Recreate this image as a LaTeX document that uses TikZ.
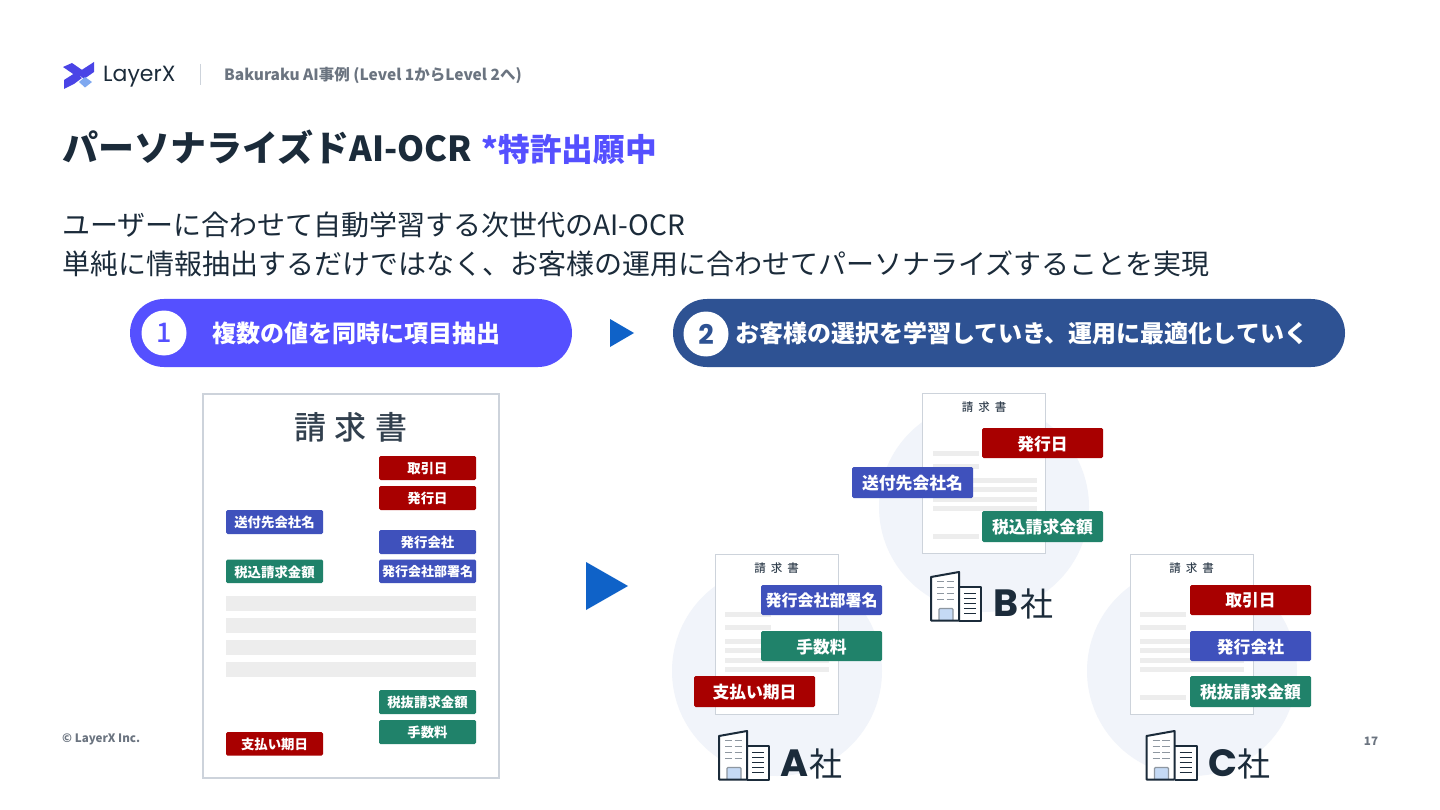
\documentclass[tikz,border=0pt]{standalone}
\usepackage{fontspec}
\setmainfont{Noto Sans CJK JP}
\setsansfont{Noto Sans CJK JP}
\newfontfamily\pop{Poppins}
\newfontfamily\med{Noto Sans CJK JP Medium}
\usetikzlibrary{calc}
\definecolor{ink}{HTML}{1B2B3A}
\definecolor{grayt}{HTML}{6B7480}
\definecolor{violet}{HTML}{5550FF}
\definecolor{logov}{HTML}{4A44E6}
\definecolor{logol}{HTML}{7FA8F0}
\definecolor{navy}{HTML}{2E5293}
\definecolor{arrowblue}{HTML}{0F62C8}
\definecolor{tagred}{HTML}{A80000}
\definecolor{tagblue}{HTML}{3F51BC}
\definecolor{taggreen}{HTML}{20826A}
\definecolor{docline}{HTML}{CDD3DB}
\definecolor{barg}{HTML}{EDEDED}
\definecolor{disc}{HTML}{F1F4FA}
\definecolor{doorc}{HTML}{C5DAF5}
\definecolor{wing}{HTML}{8E97A0}
\tikzset{
  x=1pt,y=-1pt,
  tag/.style={inner sep=0,text=white,font=\bfseries\fontsize{#1}{#1}\selectfont,align=center},
  corplabel/.style={anchor=west,inner sep=0,text=ink},
}
% filled tag: x0,y0,x1,y1,colour,style,text,name
\newcommand{\tagbox}[8]{\fill[#5,rounded corners=1.5pt] (#1,#2) rectangle (#3,#4);
  \node[#6] (#8) at ({(#1+#3)/2},{(#2+#4)/2+0.7}) {#7};}
% small document with origin at top-left; 123x160
\newcommand{\minidoc}[3]{\begin{scope}[shift={(#1,#2)}]
  \fill[white] (0,0) rectangle (123,160);
  \draw[docline,line width=0.7pt] (0,0) rectangle (123,160);
  \node[font=\med\fontsize{11.5}{11.5}\selectfont,text=ink!90] (#3) at (61.5,14) {請\hspace{5pt}求\hspace{5pt}書};
  \foreach \yy/\xa/\xb in {60/10/56,73/10/56,87/10/114,96/10/114,106/10/114,115/10/114,143/10/56}{
    \fill[barg] (\xa,\yy-2.5) rectangle (\xb,\yy+3);}
\end{scope}}
% building icon, origin top-left
\newcommand{\building}[2]{\begin{scope}[shift={(#1,#2)}]
  \fill[white] (0,5.5) -- (28,0.5) -- (28,49) -- (0,49) -- cycle;
  \fill[white] (28,15) rectangle (50,49);
  \foreach \yy in {10,16,22,28}{
    \draw[wing,line width=1.6pt] (6,\yy) -- (13,\yy) (15.5,\yy) -- (23,\yy);}
  \foreach \yy in {22,27,32,37,42}{
    \draw[ink,line width=1.7pt] (33,\yy) -- (45,\yy);}
  \fill[doorc,draw=wing,line width=1.2pt,rounded corners=1pt] (8,49) -- (8,37) -- (22,37) -- (22,49);
  \draw[ink,line width=2pt,line join=round] (28,49) -- (0,49) -- (0,5.5) -- (28,0.5) -- (28,49);
  \draw[ink,line width=2pt,line join=round] (28,15) -- (50,15) -- (50,49) -- (28,49);
\end{scope}}
\begin{document}
\begin{tikzpicture}
\useasboundingbox (0,0) rectangle (1440,810);
\fill[white] (0,0) rectangle (1440,810);
% logo
\fill[logov] (63,67) -- (72,63) -- (85,72) -- (79,78) -- cycle;
\fill[logov] (64,80) -- (75,73) -- (82,78) -- (74,84) -- (64,89) -- cycle;
\fill[logov] (94,62) -- (94,72) -- (84,79) -- (77,73) -- cycle;
\fill[logol] (79,82) -- (85,77) -- (92,82) -- (85,87.5) -- cycle;
\node[anchor=west,inner sep=0,font=\pop\fontsize{22}{22}\selectfont,text=ink] (logotext) at (103,76.5) {LayerX};
\draw[docline,line width=1.2pt] (200.5,64) -- (200.5,85);
\node[anchor=west,inner sep=0,font=\bfseries\fontsize{15.5}{15.5}\selectfont,text=grayt] (crumb) at (224,75.5) {Bakuraku AI事例 (Level 1からLevel 2へ)};
% title
\node[anchor=west,inner sep=0,font=\bfseries\fontsize{36}{36}\selectfont,text=ink] (title) at (62.5,147.5) {パーソナライズド{\fontsize{34.5}{34.5}\selectfont AI-OCR}\hspace{9.5pt}\textcolor{violet}{\fontsize{31.7}{31.7}\selectfont *特許出願中}};
% lead
\node[anchor=west,inner sep=0,font=\fontsize{28}{28}\selectfont,text=ink] (lead1) at (62,225) {ユーザーに合わせて自動学習する次世代のAI-OCR};
\node[anchor=west,inner sep=0,font=\fontsize{28}{28}\selectfont,text=ink] (lead2) at (62,264) {単純に情報抽出するだけではなく、お客様の運用に合わせてパーソナライズすることを実現};
% pills
\fill[violet,rounded corners=34pt] (130,299) rectangle (572,367);
\fill[white] (164,333) circle (22.5);
\node[font=\med\fontsize{27}{27}\selectfont,text=violet] (n1) at (164,333) {1};
\node[anchor=west,inner sep=0,font=\bfseries\fontsize{24}{24}\selectfont,text=white] (p1) at (212,333) {複数の値を同時に項目抽出};
\fill[arrowblue] (610,319) -- (634,333) -- (610,347) -- cycle;
\fill[navy,rounded corners=34pt] (673,299) rectangle (1345,367);
\fill[white] (706,334) circle (22.5);
\node[font=\pop\bfseries\fontsize{27}{27}\selectfont,text=navy] (n2) at (706,334) {2};
\node[anchor=west,inner sep=0,font=\bfseries\fontsize{24}{24}\selectfont,text=white] (p2) at (735,333) {お客様の選択を学習していき、運用に最適化していく};
% big document
\fill[white] (203,394) rectangle (499,778);
\draw[docline,line width=2pt] (203,394) rectangle (499,778);
\node[font=\med\fontsize{32}{32}\selectfont,text=ink!90] (seikyu) at (351,427) {請\hspace{8.5pt}求\hspace{8.5pt}書};
\foreach \yy in {596,618,640,662}{\fill[barg] (226,\yy) rectangle (476,\yy+15);}
\tagbox{379}{456}{476}{480}{tagred}{tag=13.4}{取引日}{a1}
\tagbox{379}{486}{476}{510}{tagred}{tag=13.4}{発行日}{a2}
\tagbox{226}{510}{323}{534}{tagblue}{tag=13.4}{送付先会社名}{a3}
\tagbox{379}{530}{476}{554}{tagblue}{tag=13.4}{発行会社}{a4}
\tagbox{226}{559.5}{323}{583}{taggreen}{tag=13.4}{税込請求金額}{a5}
\tagbox{379}{559.5}{476}{583}{tagblue}{tag=13}{発行会社部署名}{a6}
\tagbox{379}{690}{476}{714}{taggreen}{tag=13.4}{税抜請求金額}{a7}
\tagbox{379}{720}{476}{744}{taggreen}{tag=13.4}{手数料}{a8}
\tagbox{226}{732}{323}{755.5}{tagred}{tag=13.4}{支払い期日}{a9}
% big arrow
\fill[arrowblue] (586,562) -- (628,586) -- (586,610) -- cycle;
% discs
\fill[disc] (984,507) circle (105);
\fill[disc] (777,671) circle (105);
\fill[disc] (1192,671) circle (105);
% footer
\node[anchor=west,inner sep=0,font=\bfseries\fontsize{11.6}{11.6}\selectfont,text=grayt] (copy) at (62,739) {© LayerX Inc.};
\node[anchor=center,inner sep=0,font=\bfseries\fontsize{11.6}{11.6}\selectfont,text=grayt] (pg) at (1371,741) {17};
% B
\minidoc{922.5}{393}{db}
\tagbox{982}{428}{1103}{458}{tagred}{tag=16.8}{発行日}{b1}
\tagbox{852}{467}{973}{498}{tagblue}{tag=16.8}{送付先会社名}{b2}
\tagbox{982}{511}{1103}{542}{taggreen}{tag=16.8}{税込請求金額}{b3}
\building{931}{571.5}
\node[corplabel,font=\fontsize{33}{33}\selectfont] (lb) at (993,604) {{\pop\bfseries\fontsize{38}{38}\selectfont B}\hspace{2pt}社};
% A
\minidoc{715}{554}{da}
\tagbox{761}{585}{882}{615}{tagblue}{tag=16}{発行会社部署名}{c1}
\tagbox{761}{631}{882}{661}{taggreen}{tag=16.8}{手数料}{c2}
\tagbox{694}{676}{815}{707}{tagred}{tag=16.8}{支払い期日}{c3}
\building{719}{730.5}
\node[corplabel,font=\fontsize{33}{33}\selectfont] (la) at (780,763.5) {{\pop\bfseries\fontsize{38}{38}\selectfont A}\hspace{1pt}社};
% C
\minidoc{1130}{554}{dc}
\tagbox{1190}{585}{1311}{615}{tagred}{tag=16.8}{取引日}{e1}
\tagbox{1190}{631}{1311}{661}{tagblue}{tag=16.8}{発行会社}{e2}
\tagbox{1190}{676}{1311}{707}{taggreen}{tag=16.8}{税抜請求金額}{e3}
\building{1146.5}{730.5}
\node[corplabel,font=\fontsize{33}{33}\selectfont] (lc) at (1208,763.5) {{\pop\bfseries\fontsize{38}{38}\selectfont C}社};
\end{tikzpicture}
\end{document}
